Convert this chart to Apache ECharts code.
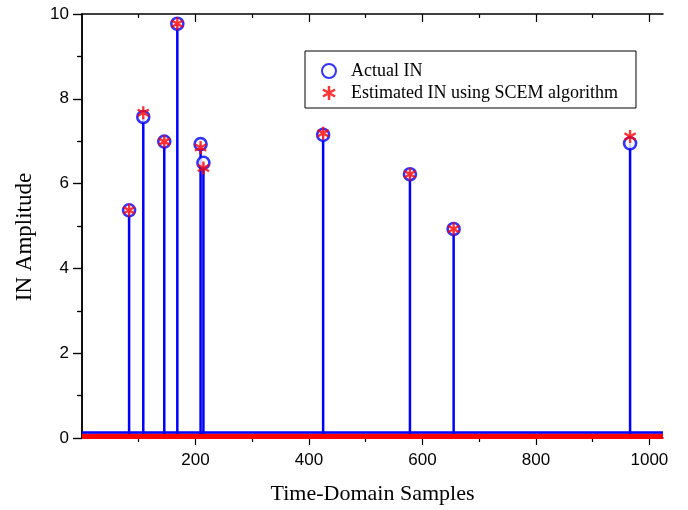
<!DOCTYPE html>
<html>
<head>
<meta charset="utf-8">
<script src="https://cdn.jsdelivr.net/npm/echarts@6/dist/echarts.min.js"></script>
<style>
  html, body { margin: 0; padding: 0; background: #fff; }
</style>
</head>
<body>
<div id="myChart" style="width: 688px;height: 510px"></div>
<script>
// impulse positions (sample index) and amplitudes
const samplePos = [83, 108, 145, 168, 209, 214, 425, 578, 655, 966];
const actualIN = [5.37, 7.57, 6.99, 9.77, 6.93, 6.49, 7.15, 6.22, 4.93, 6.95];
const estimatedIN = [5.37, 7.67, 6.99, 9.77, 6.85, 6.37, 7.19, 6.22, 4.93, 7.11];
// zero samples, drawn as the thick band at the bottom
const baseX = [0, 1024];
const baseActual = [0.13, 0.13];
const baseEstimated = [0.04, 0.04];
// tick values
const xMajor = [200, 400, 600, 800, 1000];
const xMinor = [100, 300, 500, 700, 900];

// asterisk: vertical bar + two bars at +-60 deg
const starPath = 'path://M41 0L59 0L59 100L41 100Z' +
  'M2.2 32.8L11.2 17.2L97.8 67.2L88.8 82.8Z' +
  'M11.2 82.8L2.2 67.2L88.8 17.2L97.8 32.8Z';

const black = '#000';
const tickFont = { fontFamily: 'Liberation Sans', fontSize: 17, color: black };

function pairs(xs, ys) {
  return xs.map((x, i) => [x, ys[i]]);
}

function xAxisOf(position, values, length, inside, showLine, showLabel) {
  return {
    type: 'value',
    position: position,
    min: 0,
    max: 1024,
    axisLine: { show: showLine, onZero: false, lineStyle: { color: black, width: 1.5 } },
    axisTick: { show: true, customValues: values, inside: inside, length: length, lineStyle: { color: black, width: 1.2 } },
    axisLabel: showLabel ? Object.assign({
      show: true,
      customValues: values,
      margin: 14,
      formatter: function (v) { return String(v); }
    }, tickFont) : { show: false },
    splitLine: { show: false }
  };
}

let chart = echarts.init(document.getElementById('myChart'));

let options = {
  animation: false,
  grid: { left: 82, right: 25, top: 14, bottom: 70 },
  legend: {
    left: 305,
    top: 51,
    orient: 'vertical',
    data: ['Actual IN', 'Estimated IN using SCEM algorithm'],
    itemWidth: 14,
    itemHeight: 14,
    itemGap: 4,
    padding: [11, 18, 6, 16],
    borderColor: black,
    borderWidth: 1,
    borderRadius: 0,
    textStyle: { fontFamily: 'Liberation Serif', fontSize: 18, color: black, padding: [0, 0, 0, 10] }
  },
  xAxis: [
    Object.assign(xAxisOf('bottom', xMajor, 7, false, true, true), {
      name: 'Time-Domain Samples',
      nameLocation: 'middle',
      nameGap: 45,
      nameTextStyle: { fontFamily: 'Liberation Serif', fontSize: 22, color: black }
    }),
    xAxisOf('bottom', xMinor, 4, false, false, false),
    xAxisOf('top', xMajor, 8, true, true, false),
    xAxisOf('top', xMinor, 4, true, false, false)
  ],
  yAxis: [
    {
      type: 'value',
      position: 'left',
      min: 0,
      max: 10,
      interval: 2,
      name: 'IN Amplitude',
      nameLocation: 'middle',
      nameGap: 46,
      nameTextStyle: { fontFamily: 'Liberation Serif', fontSize: 23, color: black, padding: [0, 22, 0, 0] },
      axisLine: { show: true, lineStyle: { color: black, width: 1.5 } },
      axisTick: { show: true, length: 9, lineStyle: { color: black, width: 1.2 } },
      minorTick: { show: true, splitNumber: 2, length: 4, lineStyle: { color: black, width: 1.2 } },
      axisLabel: Object.assign({ margin: 13 }, tickFont),
      splitLine: { show: false }
    },
    {
      type: 'value',
      position: 'right',
      min: 0,
      max: 10,
      interval: 2,
      axisLine: { show: true, lineStyle: { color: black, width: 1.5 } },
      axisTick: { show: true, inside: true, length: 9, lineStyle: { color: black, width: 1.2 } },
      minorTick: { show: true, splitNumber: 2, length: 5, lineStyle: { color: black, width: 1.2 } },
      axisLabel: { show: false },
      splitLine: { show: false }
    }
  ],
  series: [
    {
      // stems
      name: 'stems',
      type: 'bar',
      data: pairs(samplePos, actualIN),
      barWidth: 2.5,
      itemStyle: { color: '#0000ff' },
      z: 2
    },
    {
      name: 'base estimated',
      type: 'line',
      data: pairs(baseX, baseEstimated),
      symbol: 'none',
      lineStyle: { color: '#ff0000', width: 5.5 },
      z: 3
    },
    {
      name: 'base actual',
      type: 'line',
      data: pairs(baseX, baseActual),
      symbol: 'none',
      lineStyle: { color: '#0000ff', width: 2.5 },
      z: 3
    },
    {
      name: 'Actual IN',
      type: 'scatter',
      data: pairs(samplePos, actualIN),
      symbol: 'circle',
      symbolSize: 12,
      itemStyle: { color: '#fff', borderColor: '#0000ff', borderWidth: 2.6 },
      z: 4
    },
    {
      name: 'Estimated IN using SCEM algorithm',
      type: 'scatter',
      data: pairs(samplePos, estimatedIN),
      symbol: starPath,
      symbolKeepAspect: true,
      symbolSize: 13,
      itemStyle: { color: '#ff0000' },
      z: 5
    }
  ]
};

chart.setOption(options);
</script>
</body>
</html>
